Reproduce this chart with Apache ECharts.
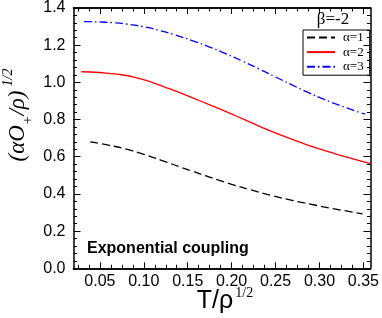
<!DOCTYPE html>
<html><head><meta charset="utf-8">
<script src="https://cdn.jsdelivr.net/npm/echarts@6/dist/echarts.min.js"></script>
<style>html,body{margin:0;padding:0;background:#fff}#c{width:382px;height:318px}</style>
</head><body><div id="c"></div>
<script>
// ---- data ----
const seriesNames = ['α=1', 'α=2', 'α=3'];
const a1X = [0.039, 0.06, 0.08, 0.10, 0.12, 0.14, 0.155, 0.17, 0.185, 0.20, 0.22, 0.245, 0.27, 0.298, 0.32, 0.349];
const a1Y = [0.680, 0.662, 0.641, 0.613, 0.581, 0.547, 0.523, 0.498, 0.474, 0.452, 0.424, 0.392, 0.364, 0.337, 0.317, 0.293];
const a2X = [0.029, 0.05, 0.072, 0.091, 0.11, 0.129, 0.148, 0.166, 0.185, 0.205, 0.223, 0.24, 0.26, 0.28, 0.298, 0.318, 0.338, 0.358];
const a2Y = [1.057, 1.053, 1.043, 1.026, 0.999, 0.966, 0.931, 0.897, 0.860, 0.819, 0.782, 0.747, 0.709, 0.674, 0.645, 0.616, 0.589, 0.563];
const a3X = [0.032, 0.05, 0.065, 0.08, 0.10, 0.1175, 0.135, 0.155, 0.175, 0.193, 0.212, 0.23, 0.25, 0.2675, 0.287, 0.3055, 0.33, 0.352];
const a3Y = [1.327, 1.325, 1.321, 1.314, 1.299, 1.280, 1.256, 1.225, 1.190, 1.155, 1.115, 1.075, 1.029, 0.989, 0.946, 0.908, 0.864, 0.829];
const xTickLabels = [0.05, 0.10, 0.15, 0.20, 0.25, 0.30, 0.35];
const xMinorTicks = [0.025, 0.0375, 0.05, 0.0625, 0.075, 0.0875, 0.10, 0.1125, 0.125, 0.1375, 0.15, 0.1625, 0.175, 0.1875, 0.20, 0.2125, 0.225, 0.2375, 0.25, 0.2625, 0.275, 0.2875, 0.30, 0.3125, 0.325, 0.3375, 0.35];
const xRange = [0.02, 0.358];
const yRange = [0, 1.4];
const yStep = 0.2;

const zip = (xs, ys) => xs.map((x, i) => [x, ys[i]]);

const BLACK = '#000';
const sans = 'Liberation Sans, Arial, sans-serif';
const serif = 'Liberation Serif, Times New Roman, serif';

function xAxisDef(pos, ticks, len, labels) {
  return {
    type: 'value', position: pos, min: xRange[0], max: xRange[1],
    axisLine: { show: true, onZero: false, lineStyle: { color: BLACK, width: 1.5 } },
    splitLine: { show: false },
    axisTick: { show: true, inside: true, length: len, customValues: ticks, lineStyle: { color: BLACK, width: 1 } },
    axisLabel: labels ? { show: true, customValues: xTickLabels, formatter: v => v.toFixed(2), color: BLACK, fontFamily: sans, fontSize: 16, margin: 5 } : { show: false }
  };
}
function yAxisDef(pos, labels) {
  return {
    type: 'value', position: pos, min: yRange[0], max: yRange[1], interval: yStep,
    axisLine: { show: true, onZero: false, lineStyle: { color: BLACK, width: 1.5 } },
    splitLine: { show: false },
    axisTick: { show: true, inside: true, length: 7, lineStyle: { color: BLACK, width: 1 } },
    minorTick: { show: true, splitNumber: 5, length: 3.5, lineStyle: { color: BLACK, width: 1 } },
    axisLabel: labels ? { show: true, formatter: v => v.toFixed(1), color: BLACK, fontFamily: sans, fontSize: 16, margin: 8 } : { show: false }
  };
}

const chart = echarts.init(document.getElementById('c'), null, { renderer: 'canvas' });
chart.setOption({
  animation: false,
  backgroundColor: '#fff',
  grid: { left: 73.5, right: 8.7, top: 5.5, bottom: 49.7, containLabel: false },
  xAxis: [
    xAxisDef('bottom', xTickLabels, 6, true),
    xAxisDef('bottom', xMinorTicks, 3.5, false),
    xAxisDef('top', xTickLabels, 6, false),
    xAxisDef('top', xMinorTicks, 3.5, false)
  ],
  yAxis: [yAxisDef('left', true), yAxisDef('right', false)],
  legend: {
    data: seriesNames, orient: 'vertical', left: 303, top: 30,
    itemWidth: 28, itemHeight: 10, itemGap: 1.6,
    padding: [1, 6, 2, 3],
    borderColor: BLACK, borderWidth: 1, borderRadius: 0,
    itemStyle: { opacity: 0 },
    textStyle: { fontFamily: serif, fontSize: 13, lineHeight: 10, color: BLACK, padding: [0, 0, 0, 3] }
  },
  series: [
    { name: seriesNames[0], type: 'line', data: zip(a1X, a1Y), smooth: 0.5, symbol: 'none',
      lineStyle: { color: BLACK, width: 1.3, type: [8, 4] }, itemStyle: { color: BLACK } },
    { name: seriesNames[1], type: 'line', data: zip(a2X, a2Y), smooth: 0.5, symbol: 'none',
      lineStyle: { color: '#ff0000', width: 1.3, type: 'solid' }, itemStyle: { color: '#ff0000' } },
    { name: seriesNames[2], type: 'line', data: zip(a3X, a3Y), smooth: 0.5, symbol: 'none',
      lineStyle: { color: '#0000ff', width: 1.3, type: [8, 3, 1.5, 3] }, itemStyle: { color: '#0000ff' } }
  ],
  graphic: [
    { type: 'text', x: 333, y: 20, style: { text: 'β=-2', fontFamily: serif, fontSize: 17, fill: BLACK, align: 'center', verticalAlign: 'middle' } },
    { type: 'text', x: 87, y: 249, style: { text: 'Exponential coupling', fontFamily: sans, fontWeight: 'bold', fontSize: 16, fill: BLACK, align: 'left', verticalAlign: 'middle' } },
    { type: 'text', x: 225, y: 300, style: {
        text: '{m|T/ρ}{p|1/2}', align: 'center', verticalAlign: 'middle',
        rich: {
          m: { fontFamily: sans, fontSize: 25, lineHeight: 28, verticalAlign: 'bottom', fill: BLACK },
          p: { fontFamily: serif, fontSize: 14, lineHeight: 14, verticalAlign: 'top', fill: BLACK, padding: [0, 0, 0, 2] }
        } } },
    { type: 'text', x: 18, y: 115, rotation: Math.PI / 2, style: {
        text: '{m|(αO}{s|+}{m|/ρ)}{p|1/2}', align: 'center', verticalAlign: 'middle',
        rich: {
          m: { fontFamily: serif, fontStyle: 'italic', fontSize: 23, lineHeight: 34, verticalAlign: 'middle', fill: BLACK },
          s: { fontFamily: serif, fontStyle: 'italic', fontSize: 14, lineHeight: 12, verticalAlign: 'bottom', fill: BLACK },
          p: { fontFamily: serif, fontStyle: 'italic', fontSize: 14, lineHeight: 14, verticalAlign: 'top', fill: BLACK, padding: [0, 0, 0, 4] }
        } } }
  ]
});
</script>
</body></html>
